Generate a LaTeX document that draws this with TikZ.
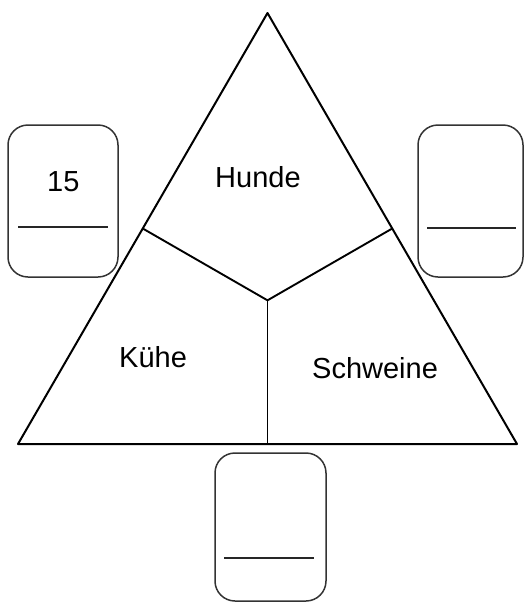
\documentclass[tikz,border=0pt]{standalone}
\usepackage{fontspec}
\setmainfont{Liberation Sans}
\usetikzlibrary{calc, positioning}

\begin{document}
\begin{tikzpicture}[x=1pt, y=-1pt, line join=round,
    answerbox/.style={draw=black!80, line width=1.5pt, rounded corners=20pt,
      minimum width=110pt, minimum height=152pt, inner sep=0pt},
    animal/.style={font=\fontsize{29}{30}\selectfont, inner sep=0pt, anchor=base west}]
    \useasboundingbox (0,0) rectangle (525,603);
    \coordinate (top) at (267.5,13);
    \coordinate (bl) at (18,444);
    \coordinate (br) at (517,444);
    \coordinate (centre) at ($(top)!2/3!($(bl)!0.5!(br)$)$);
    \draw[line width=2pt] (top) -- (bl) -- (br) -- cycle;
    \foreach \a/\b in {top/bl, top/br, bl/br}
      \draw[line width=1.9pt] (centre) -- ($(\a)!0.5!(\b)$);
    \node[answerbox] (leftbox) at (63,201) {};
    \node[answerbox, minimum width=105pt] (rightbox) at (470.5,201) {};
    \node[answerbox, minimum width=111pt, minimum height=148pt] (bottombox) at (270.5,527) {};
    \draw[line width=1.5pt, black!85] ($(leftbox.west)+(11,26)$) -- ($(leftbox.east)+(-11,26)$);
    \draw[line width=1.5pt, black!85] ($(rightbox.west)+(10,27)$) -- ($(rightbox.east)+(-8,27)$);
    \draw[line width=1.5pt, black!85] ($(bottombox.west)+(10,31)$) -- ($(bottombox.east)+(-13,31)$);
    \node[animal] (dogs) at (215,187) {Hunde};
    \node[animal] (cows) at (119,367) {Kühe};
    \node[animal] (pigs) at (312,378) {Schweine};
    \node[animal] (count) at (47,191) {15};
\end{tikzpicture}
\end{document}
